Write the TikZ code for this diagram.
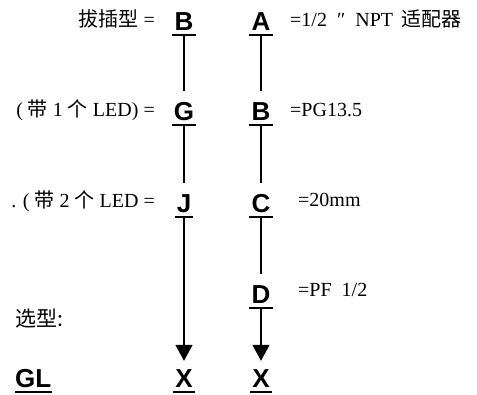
\documentclass[tikz,border=0pt]{standalone}
\usepackage{fontspec}
\setmainfont{Liberation Serif}
\setsansfont{Liberation Sans}
\newfontfamily\cjk{Noto Sans CJK SC}
\usetikzlibrary{arrows.meta}

\begin{document}
\begin{tikzpicture}[x=1pt,y=-1pt,
                letter/.style={font=\sffamily\bfseries\fontsize{26}{26}\selectfont,anchor=base,
                              inner xsep=2pt,inner ysep=0pt,text height=19pt,text depth=4pt,
                              append after command={\pgfextra{\draw[line width=1.9pt]
                                (\tikzlastnode.south west) -- (\tikzlastnode.south east);}}},
                lefttext/.style={font=\fontsize{20}{20}\selectfont,anchor=base east,inner sep=0pt},
                righttext/.style={font=\fontsize{20}{20}\selectfont,anchor=base west,inner sep=0pt},
                link/.style={line width=1.6pt,shorten >=11pt},
                arrowlink/.style={line width=1.6pt,-{Triangle[width=17pt,length=16pt]},shorten >=8pt}
            ]
                \useasboundingbox (0,0) rectangle (477,395);
                % left column
                \node[letter] (bL) at (184,31) {B};
                \node[letter] (gL) at (184,121) {G};
                \node[letter] (jL) at (184,213) {J};
                \node[letter] (xL) at (184,388) {X};
                % right column
                \node[letter] (aR) at (261,31) {A};
                \node[letter] (bR) at (261,121) {B};
                \node[letter] (cR) at (261,213) {C};
                \node[letter] (dR) at (261,304) {D};
                \node[letter] (xR) at (261,388) {X};
                % texts
                \node[lefttext] (tB) at (155,27) {{\cjk 拔插型} =};
                \node[lefttext] (tG) at (155,117) {( {\cjk 带} 1 {\cjk 个} LED) =};
                \node[lefttext] (tJ) at (155,208) {. ( {\cjk 带} 2 {\cjk 个} LED =};
                \node[righttext] (tA) at (290,27) {=1/2 \ ″\ \ NPT \,{\cjk 适配器}};
                \node[righttext] (tBR) at (290,117) {=PG13.5};
                \node[righttext] (tC) at (298,207) {=20mm};
                \node[righttext] (tD) at (298,297) {=PF\ \ 1/2};
                \node[anchor=base west,inner sep=0pt,font=\cjk\fontsize{21}{21}\selectfont] (sel) at (15,327) {选型:};
                \node[letter,anchor=base west,inner xsep=0pt,font=\sffamily\bfseries\fontsize{26}{26}\selectfont] (gl) at (15,388) {GL};
                % connectors
                \draw[link] (bL.south) -- (gL.north);
                \draw[link] (gL.south) -- (jL.north);
                \draw[arrowlink] (jL.south) -- (xL.north);
                \draw[link] (aR.south) -- (bR.north);
                \draw[link] (bR.south) -- (cR.north);
                \draw[link] (cR.south) -- (dR.north);
                \draw[arrowlink] (dR.south) -- (xR.north);
            \end{tikzpicture}
\end{document}
